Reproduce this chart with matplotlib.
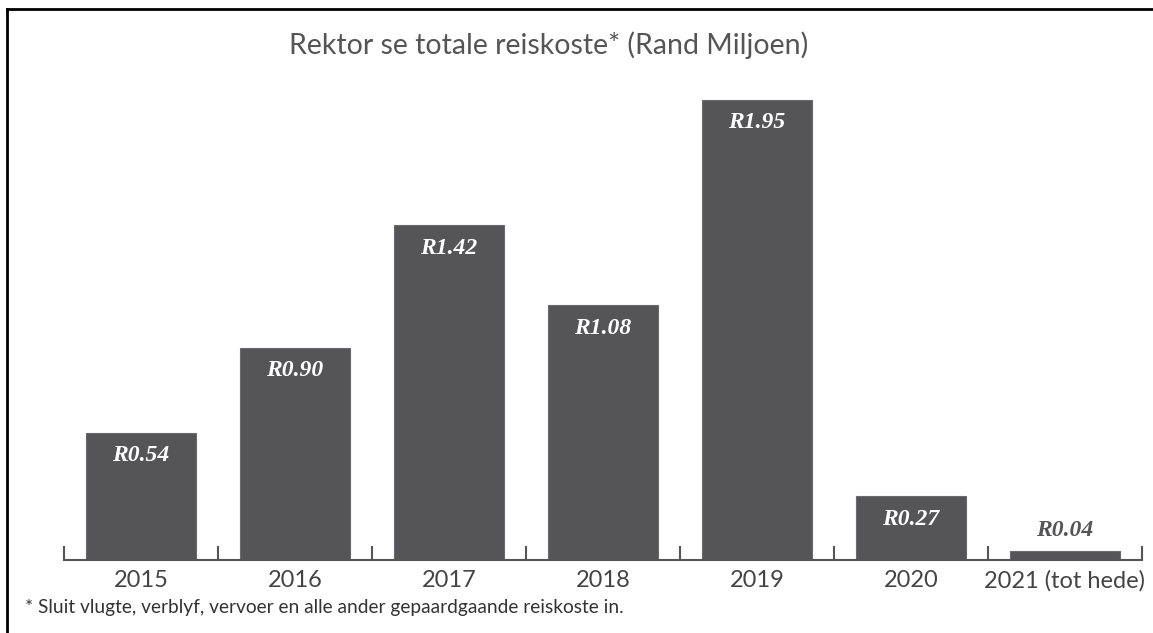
import matplotlib
matplotlib.use("Agg")
import matplotlib.pyplot as plt
from matplotlib.lines import Line2D
import numpy as np

categories = ["2015", "2016", "2017", "2018", "2019", "2020", "2021 (tot hede)"]
values = [0.54, 0.90, 1.42, 1.08, 1.95, 0.27, 0.04]
value_labels = ["R0.54", "R0.90", "R1.42", "R1.08", "R1.95", "R0.27", "R0.04"]

W, H = 1153, 633
fig = plt.figure(figsize=(W / 100, H / 100), dpi=100)
fig.patch.set_facecolor("white")

ax_left, ax_right = 64 / W, 1142 / W
ax_bottom = (H - 560) / H
ax_top = 1 - 60 / H
ax = fig.add_axes([ax_left, ax_bottom, ax_right - ax_left, ax_top - ax_bottom])

bar_color = "#555557"
x = np.arange(len(categories))
bars = ax.bar(x, values, width=0.714, color=bar_color, edgecolor="#6a6a6c", linewidth=0.8, zorder=2)

px_per_unit = 460 / 1.95
ylim_top = 500 / px_per_unit
ax.set_ylim(0, ylim_top)
ax.set_xlim(-0.5, len(categories) - 0.5)

label_font = dict(family="Liberation Serif", style="italic", weight="bold", size=17)
for xi, v, lab in zip(x, values, value_labels):
    if v > 0.15:
        ax.text(xi, v - 23 / px_per_unit, lab, ha="center", va="center", color="white", **label_font)
    else:
        ax.text(xi, v + 20 / px_per_unit, lab, ha="center", va="center", color="#555557", **label_font)

for s in ["top", "right", "left"]:
    ax.spines[s].set_visible(False)
ax.spines["bottom"].set_color("#555555")
ax.spines["bottom"].set_linewidth(1.5)
ax.set_yticks([])

ax.set_xticks(x)
ax.set_xticklabels(categories, fontsize=17, color="#444444", family="Lato")
ax.tick_params(axis="x", which="major", length=0, pad=7)
ax.set_xticks(np.arange(-0.5, len(categories)), minor=True)
ax.tick_params(axis="x", which="minor", direction="in", length=10, width=1.5, color="#555555")

fig.text(549 / W, 1 - 45 / H, "Rektor se totale reiskoste* (Rand Miljoen)", ha="center", va="center",
         fontsize=20.5, color="#555555", family="Lato")
fig.text(25 / W, 1 - 608 / H, "* Sluit vlugte, verblyf, vervoer en alle ander gepaardgaande reiskoste in.",
         ha="left", va="center", fontsize=13.8, color="#333333", family="Lato")

# figure frame (left and top lines)
fig.add_artist(Line2D([7 / W, 7 / W], [1 - 9 / H, 0], transform=fig.transFigure, color="black", linewidth=2))
fig.add_artist(Line2D([7 / W, 1], [1 - 9 / H, 1 - 9 / H], transform=fig.transFigure, color="black", linewidth=2))

fig.savefig("out.png", dpi=100, facecolor="white")
